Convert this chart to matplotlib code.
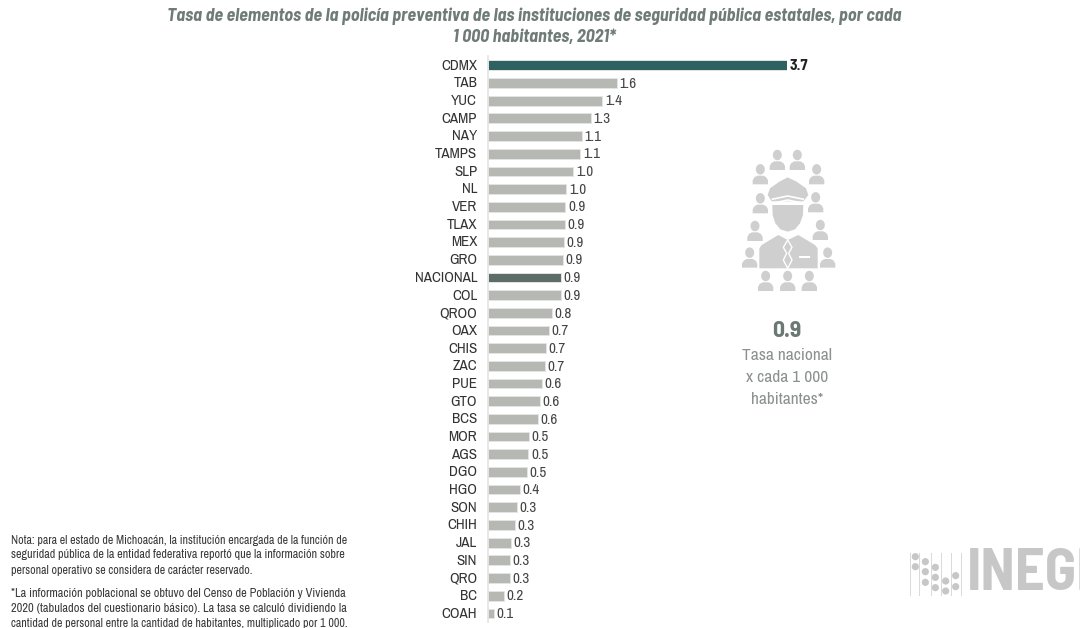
import matplotlib
matplotlib.use("Agg")
import matplotlib.pyplot as plt
from matplotlib.patches import Circle, Polygon, Ellipse, Rectangle
from matplotlib.transforms import ScaledTranslation

W, H = 1080, 628
NARROW = ['Archivo Narrow', 'Roboto Condensed', 'Liberation Sans', 'DejaVu Sans']
BOLD = ['Barlow Semi Condensed', 'Roboto Condensed', 'Liberation Sans', 'DejaVu Sans']

categories = ["CDMX", "TAB", "YUC", "CAMP", "NAY", "TAMPS", "SLP", "NL", "VER", "TLAX", "MEX", "GRO",
              "NACIONAL", "COL", "QROO", "OAX", "CHIS", "ZAC", "PUE", "GTO", "BCS", "MOR", "AGS", "DGO",
              "HGO", "SON", "CHIH", "JAL", "SIN", "QRO", "BC", "COAH"]
values = [3.70, 1.59, 1.41, 1.27, 1.157, 1.136, 1.055, 0.963, 0.955, 0.947, 0.935, 0.925,
          0.90, 0.90, 0.786, 0.752, 0.715, 0.703, 0.662, 0.64, 0.613, 0.503, 0.495, 0.475,
          0.392, 0.35, 0.33, 0.277, 0.268, 0.265, 0.19, 0.07]
value_labels = ["3.7", "1.6", "1.4", "1.3", "1.1", "1.1", "1.0", "1.0", "0.9", "0.9", "0.9", "0.9",
                "0.9", "0.9", "0.8", "0.7", "0.7", "0.7", "0.6", "0.6", "0.6", "0.5", "0.5", "0.5",
                "0.4", "0.3", "0.3", "0.3", "0.3", "0.3", "0.2", "0.1"]
title_lines = ["Tasa de elementos de la policía preventiva de las instituciones de seguridad pública estatales, por cada",
               "1 000 habitantes, 2021*"]
note_lines = ["Nota: para el estado de Michoacán, la institución encargada de la función de",
              "seguridad pública de la entidad federativa reportó que la información sobre",
              "personal operativo se considera de carácter reservado.",
              "*La información poblacional se obtuvo del Censo de Población y Vivienda",
              "2020 (tabulados del cuestionario básico). La tasa se calculó dividiendo la",
              "cantidad de personal entre la cantidad de habitantes, multiplicado por 1 000."]
note_y = [540, 555, 570, 593.5, 608.5, 623.5]
note_size = [8.6, 8.75, 8.65, 8.9, 8.95, 8.6]
side_value = "0.9"
side_lines = ["Tasa nacional", "x cada 1 000", "habitantes*"]

GRAY = "#b5b8b3"
bar_colors = {"CDMX": "#2f6162", "NACIONAL": "#5c6d67"}

fig = plt.figure(figsize=(W / 100, H / 100), dpi=100, facecolor="white")

ov = fig.add_axes([0, 0, 1, 1], zorder=3)
ov.set_xlim(0, W)
ov.set_ylim(H, 0)
ov.axis("off")
ov.patch.set_alpha(0)

row = 17.68
top = 65.3 - row / 2
ax = fig.add_axes([488.3 / W, 1 - (top + row * 32) / H, (787.0 - 488.3) / W, row * 32 / H], zorder=2)
ax.patch.set_alpha(0)
ax.set_xlim(0, 3.7)
ax.set_ylim(31.5, -0.5)
colors = [bar_colors.get(c, GRAY) for c in categories]
ax.barh(range(len(values)), values, height=0.55, color=colors,
        edgecolor="#e4e5e3", linewidth=0.7, zorder=2)
for s in ("top", "right", "bottom"):
    ax.spines[s].set_visible(False)
ax.spines["left"].set_color("#e3e3e3")
ax.spines["left"].set_linewidth(1.2)
ax.set_xticks([])
ax.set_yticks(range(len(categories)))
ax.set_yticklabels(categories, fontfamily=NARROW, fontsize=10.8, color="#333333")
ax.tick_params(axis="y", length=0, pad=8)
shift = ScaledTranslation(0, 0.8 / 72, fig.dpi_scale_trans)
for lab in ax.get_yticklabels():
    lab.set_transform(lab.get_transform() + shift)
for i, (v, lab) in enumerate(zip(values, value_labels)):
    bold = i == 0
    ax.annotate(lab, (v, i), xytext=(2.0, -0.5), textcoords="offset points", va="center", ha="left",
                fontfamily=BOLD if bold else NARROW, fontsize=11.2 if bold else 10.8,
                color="#222222" if bold else "#444444",
                fontweight="bold" if bold else "normal", annotation_clip=False)

for y, line in zip((16, 37), title_lines):
    ov.text(534, y, line, ha="center", va="center", fontfamily=BOLD, fontsize=13,
            fontweight="bold", fontstyle="italic", color="#6f7b76")

for y, size, line in zip(note_y, note_size, note_lines):
    ov.text(11, y, line, ha="left", va="center", fontfamily=NARROW, fontsize=size, color="#3a3a3a",
            clip_on=False)

ov.text(787, 331, side_value, ha="center", va="center", fontfamily=BOLD, fontsize=17,
        fontweight="bold", color="#6b7873")
for y, line in zip((356, 378, 400), side_lines):
    ov.text(787, y, line, ha="center", va="center", fontfamily=NARROW, fontsize=12.5, color="#8b918d")

ICON = "#cfcfcf"
def zx(v): return 720 + v / 3
def zy(v): return 140 + v / 3
def poly(pts, fc=ICON, ec="none", lw=0, closed=True):
    ov.add_patch(Polygon([(zx(a), zy(b)) for a, b in pts], closed=closed, fc=fc, ec=ec, lw=lw))

people = [(172, 45), (232, 45), (121, 88), (290, 88), (121, 175), (287, 172), (105, 258), (301, 255),
          (89, 338), (323, 338), (137, 408), (203, 408), (268, 408)]
for hx, hy in people:
    ov.add_patch(Ellipse((zx(hx), zy(hy)), 9, 10.5, fc=ICON, ec="none"))
    poly([(hx - 23, hy + 45), (hx - 23, hy + 33), (hx - 18, hy + 24), (hx - 9, hy + 19), (hx + 9, hy + 19),
          (hx + 18, hy + 24), (hx + 23, hy + 33), (hx + 23, hy + 45)])

poly([(203, 112), (230, 125), (258, 145), (265, 165), (250, 184), (155, 184), (143, 165), (150, 145), (178, 125)])
poly([(157, 195), (250, 195), (249, 225), (240, 250), (225, 268), (203, 275), (181, 268), (166, 250), (158, 225)])
poly([(118, 385), (118, 325), (125, 315), (175, 285), (203, 300), (235, 285), (285, 315), (293, 325), (293, 385)])
poly([(155, 178), (203, 168), (252, 178)], fc="none", ec="white", lw=1.2, closed=False)
poly([(158, 190), (203, 180), (250, 190)], fc="none", ec="white", lw=1.2, closed=False)
poly([(203, 300), (190, 322), (200, 340), (190, 360), (203, 385), (216, 360), (206, 340), (216, 322)],
     fc="none", ec="white", lw=1.0)
ov.add_patch(Rectangle((zx(238), zy(348)), 32 / 3, 6 / 3, fc="white", ec="none"))

LOGO = "#c6c7c6"
def lx(v): return 900 + v / 3
def ly(v): return 540 + v / 3
for v in (30, 58, 92, 122, 152, 182):
    ov.plot([lx(v), lx(v)], [ly(40), ly(165)], color="#d9d9d9", lw=0.7)
for cx, ys in ((46, (50, 80)), (76, (65, 95, 127)), (106, (82, 112, 143)), (137, (123, 153)), (167, (107, 140))):
    for y in ys:
        ov.add_patch(Circle((lx(cx), ly(y)), 3.6, fc=LOGO, ec="none"))
ov.text(967, 574.5, "INEGI", ha="left", va="center", fontfamily=BOLD, fontsize=42,
        fontweight="bold", color=LOGO, clip_on=True)

fig.savefig("out.png", dpi=100)
